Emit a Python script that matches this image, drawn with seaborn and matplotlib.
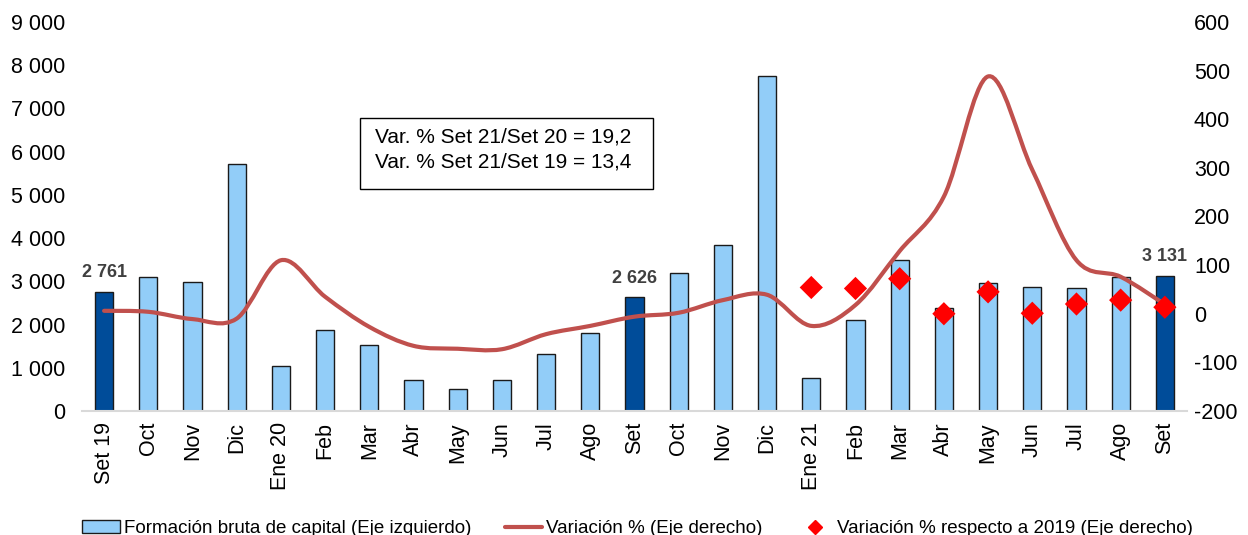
import numpy as np
import pandas as pd
import matplotlib
matplotlib.use("Agg")
import matplotlib.pyplot as plt
import seaborn as sns
from matplotlib.path import Path
from matplotlib.patches import PathPatch, Rectangle, Patch
from matplotlib.lines import Line2D
from matplotlib.ticker import FuncFormatter

meses = ["Set 19", "Oct", "Nov", "Dic", "Ene 20", "Feb", "Mar", "Abr", "May", "Jun",
         "Jul", "Ago", "Set", "Oct", "Nov", "Dic", "Ene 21", "Feb", "Mar", "Abr",
         "May", "Jun", "Jul", "Ago", "Set"]
fbk = [2761, 3095, 2986, 5715, 1051, 1875, 1537, 718, 502, 727,
       1319, 1799, 2626, 3188, 3843, 7752, 773, 2116, 3495, 2377,
       2972, 2864, 2848, 3110, 3131]
destacado = [0, 12, 24]  # meses de setiembre
var_pct = [6, 4, -11, -10, 110, 35, -27, -66, -72, -73,
           -42, -25, -6, 2, 28, 39, -25, 18, 129, 241,
           488, 296, 110, 76, 19.2]
var_2019_idx = list(range(16, 25))
var_2019 = [54, 52, 72, 0, 45, 1, 20, 28, 13.4]

sns.set_theme(style="white")
plt.rcParams["font.family"] = ["Liberation Sans", "DejaVu Sans"]
plt.rcParams["axes.unicode_minus"] = False
plt.rcParams["text.color"] = "black"

df = pd.DataFrame({
    "pos": range(len(meses)),
    "valor": fbk,
    "tipo": ["set" if i in destacado else "otro" for i in range(len(meses))],
})

fig = plt.figure(figsize=(12.48, 5.35), dpi=100)
ax = fig.add_axes([0.0657, 0.2318, 0.8854, 0.7271])

sns.barplot(data=df, x="pos", y="valor", hue="tipo", dodge=False, width=0.41,
            palette={"set": "#004C99", "otro": "#92CDF8"}, saturation=1,
            edgecolor="#1a1a1a", linewidth=1.0, legend=False, ax=ax)

ax.set_xlim(-0.5, len(meses) - 0.5)
ax.set_ylim(0, 9000)
ax.set_yticks(range(0, 9001, 1000))
ax.yaxis.set_major_formatter(FuncFormatter(lambda v, p: f"{int(v):,}".replace(",", " ")))
ax.set_xticks(range(len(meses)))
ax.set_xticklabels(meses, rotation=90)
ax.set_xlabel("")
ax.set_ylabel("")
ax.tick_params(axis="both", length=0, labelsize=15.5, colors="black")
ax.tick_params(axis="y", pad=12)
ax.tick_params(axis="x", pad=8)
for s in ["left", "right", "top"]:
    ax.spines[s].set_visible(False)
ax.spines["bottom"].set_color("#D9D9D9")
ax.spines["bottom"].set_linewidth(1.5)

for i in destacado:
    ax.text(i, fbk[i] + 250, f"{fbk[i]:,}".replace(",", " "), ha="center", va="bottom",
            fontsize=13, fontweight="bold", color="#404040")

ax2 = ax.twinx()
ax2.set_ylim(-200, 600)
ax2.set_yticks(range(-200, 601, 100))
ax2.tick_params(axis="y", length=0, labelsize=15.5, pad=5, colors="black")
for s in ax2.spines.values():
    s.set_visible(False)

# curva suavizada (Catmull-Rom como Excel)
x = np.arange(len(var_pct), dtype=float)
y = np.array(var_pct, dtype=float)
pts = np.column_stack([x, y])
ext = np.vstack([pts[0], pts, pts[-1]])
verts = [tuple(pts[0])]
codes = [Path.MOVETO]
for k in range(len(pts) - 1):
    p0, p1, p2, p3 = ext[k], ext[k + 1], ext[k + 2], ext[k + 3]
    c1 = p1 + (p2 - p0) / 6
    c2 = p2 - (p3 - p1) / 6
    verts += [tuple(c1), tuple(c2), tuple(p2)]
    codes += [Path.CURVE4] * 3
ax2.add_patch(PathPatch(Path(verts, codes), facecolor="none", edgecolor="#C0504D",
                        linewidth=3.0, capstyle="round", zorder=3))

sns.scatterplot(x=var_2019_idx, y=var_2019, marker="D", s=140, color="#FF0000",
                edgecolor="none", zorder=4, ax=ax2)

# recuadro de texto
fig.patches.append(Rectangle((360 / 1248, 1 - 189 / 535), 293 / 1248, 71 / 535,
                             transform=fig.transFigure, facecolor="white",
                             edgecolor="black", linewidth=1.0, zorder=5))
fig.text(375 / 1248, 1 - 137 / 535, "Var. % Set 21/Set 20 = 19,2", fontsize=15,
         va="center", ha="left", color="black", zorder=6)
fig.text(375 / 1248, 1 - 162 / 535, "Var. % Set 21/Set 19 = 13,4", fontsize=15,
         va="center", ha="left", color="black", zorder=6)

handles = [
    Patch(facecolor="#92CDF8", edgecolor="#1a1a1a", linewidth=1.0),
    Line2D([], [], color="#C0504D", linewidth=3.0),
    Line2D([], [], color="#FF0000", marker="D", linestyle="none", markersize=7),
]
labels = ["Formación bruta de capital (Eje izquierdo)", "Variación % (Eje derecho)",
          "Variación % respecto a 2019 (Eje derecho)"]
leg = fig.legend(handles, labels, loc="center", bbox_to_anchor=(0.511, 0.012), ncol=3,
                 frameon=False, fontsize=13.5, handlelength=2.0, handletextpad=0.2,
                 columnspacing=1.8)
for t in leg.get_texts():
    t.set_color("black")

fig.savefig("out.png", dpi=100)
